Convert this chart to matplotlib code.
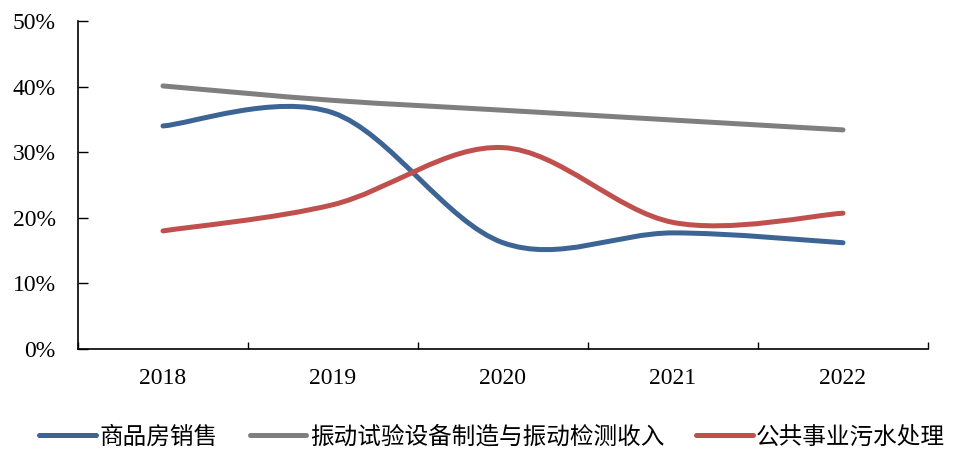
import matplotlib
matplotlib.use("Agg")
import matplotlib.pyplot as plt
from matplotlib.path import Path
from matplotlib.patches import PathPatch
from matplotlib.lines import Line2D
import numpy as np

years = ["2018", "2019", "2020", "2021", "2022"]
housing = [34.0, 36.0, 16.2, 17.7, 16.2]
vibration = [40.1, 37.9, 36.4, 34.9, 33.4]
sewage = [18.0, 22.0, 30.7, 19.3, 20.7]
names = ["商品房销售", "振动试验设备制造与振动检测收入", "公共事业污水处理"]
colors = ["#3C6494", "#7F7F7F", "#C0504D"]
yticks = [0, 10, 20, 30, 40, 50]

SERIF = ["Liberation Serif", "DejaVu Serif"]
CJK = ["Noto Sans CJK SC", "DejaVu Sans"]


def smooth_path(xs, ys):
    pts = np.column_stack([xs, ys]).astype(float)
    n = len(pts)
    verts = [pts[0]]
    codes = [Path.MOVETO]
    for i in range(n - 1):
        p0 = pts[i - 1] if i > 0 else pts[i]
        p1 = pts[i]
        p2 = pts[i + 1]
        p3 = pts[i + 2] if i + 2 < n else pts[i + 1]
        c1 = p1 + (p2 - p0) / 6.0
        c2 = p2 - (p3 - p1) / 6.0
        verts += [c1, c2, p2]
        codes += [Path.CURVE4] * 3
    return Path(verts, codes)


fig = plt.figure(figsize=(9.56, 4.5), dpi=100)
ax = fig.add_axes([78 / 956, 1 - 349 / 450, (928 - 78) / 956, (349 - 21) / 450])

x = np.arange(len(years))
handles = []
for vals, c, nm in zip([housing, vibration, sewage], colors, names):
    patch = PathPatch(smooth_path(x, vals), facecolor="none", edgecolor=c,
                      lw=3.6, capstyle="round", joinstyle="round", zorder=3)
    ax.add_patch(patch)
    handles.append(Line2D([], [], color=c, lw=3.6, solid_capstyle="round", label=nm))

ax.set_xlim(-0.5, len(years) - 0.5)
ax.set_ylim(0, 50)
ax.set_xticks(x)
ax.set_xticklabels(years, fontfamily=SERIF, fontsize=17)
ax.set_xticks(np.arange(len(years) + 1) - 0.5, minor=True)
ax.tick_params(axis="x", which="major", length=0, pad=14)
ax.tick_params(axis="x", which="minor", direction="in", length=5, width=1)
ax.set_yticks(yticks)
ax.set_yticklabels([f"{v}%" for v in yticks], fontfamily=SERIF, fontsize=17)
ax.tick_params(axis="y", direction="in", length=7, width=1, pad=16)
for s in ["top", "right"]:
    ax.spines[s].set_visible(False)
for s in ["left", "bottom"]:
    ax.spines[s].set_linewidth(1.2)

leg = fig.legend(handles=handles, loc="center", bbox_to_anchor=(0.515, 1 - 437 / 450),
                 ncol=3, frameon=False, prop={"family": CJK, "size": 17},
                 handlelength=2.4, handletextpad=0.15, columnspacing=1.35)

fig.savefig("out.png", dpi=100)
